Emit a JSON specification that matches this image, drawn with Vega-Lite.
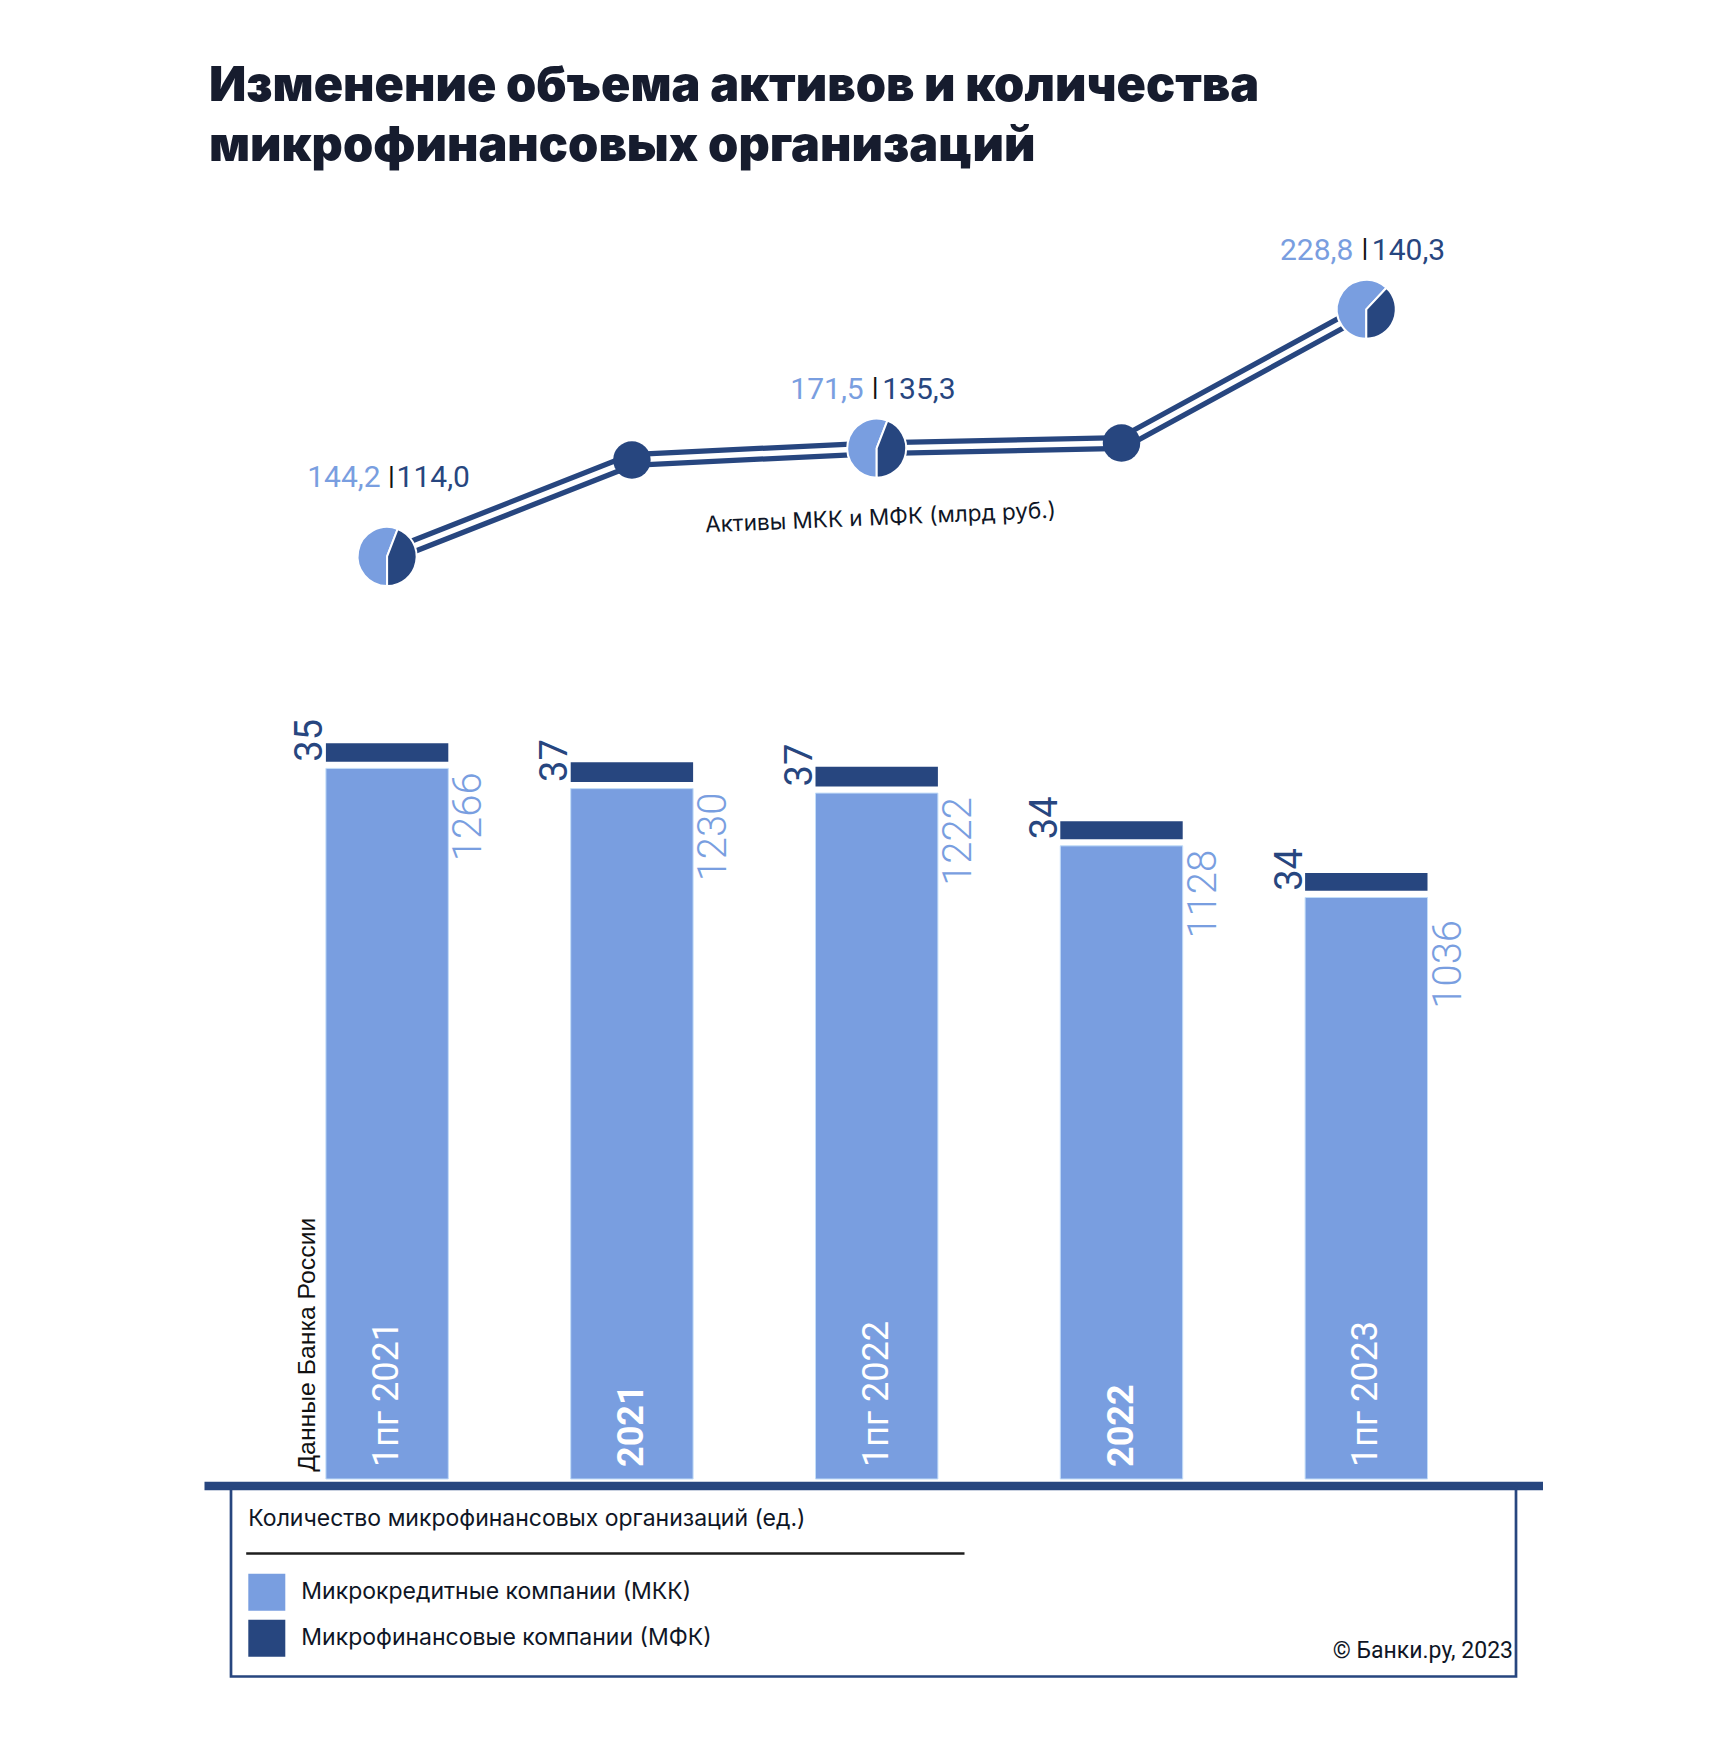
{
  "$schema": "https://vega.github.io/schema/vega-lite/v6.json",
  "background": "white",
  "padding": {"left": 204, "top": 61.5, "right": 0, "bottom": 0},
  "title": {
    "text": ["Изменение объема активов и количества", "микрофинансовых организаций"],
    "anchor": "start",
    "frame": "group",
    "font": "Inter",
    "fontSize": 48.5,
    "fontWeight": 900,
    "color": "#161C2E",
    "lineHeight": 60,
    "offset": 9,
    "dx": 5
  },
  "config": {
    "view": {"stroke": null},
    "locale": {"number": {"decimal": ",", "thousands": " ", "grouping": [3], "currency": ["", ""]}},
    "axis": {"grid": false}
  },
  "datasets": {
    "counts": [
      {"period": "1пг 2021", "series": "МКК", "count": 1266},
      {"period": "1пг 2021", "series": "МФК", "count": 35},
      {"period": "2021", "series": "МКК", "count": 1230},
      {"period": "2021", "series": "МФК", "count": 37},
      {"period": "1пг 2022", "series": "МКК", "count": 1222},
      {"period": "1пг 2022", "series": "МФК", "count": 37},
      {"period": "2022", "series": "МКК", "count": 1128},
      {"period": "2022", "series": "МФК", "count": 34},
      {"period": "1пг 2023", "series": "МКК", "count": 1036},
      {"period": "1пг 2023", "series": "МФК", "count": 34}
    ],
    "line": [
      {"period": "1пг 2021", "total": 258.2},
      {"period": "2021", "total": 301.5},
      {"period": "1пг 2022", "total": 306.8},
      {"period": "2022", "total": 309.1},
      {"period": "1пг 2023", "total": 369.1}
    ],
    "pie": [
      {"period": "1пг 2021", "series": "МКК", "value": 144.2},
      {"period": "1пг 2021", "series": "МФК", "value": 114.0},
      {"period": "1пг 2022", "series": "МКК", "value": 171.5},
      {"period": "1пг 2022", "series": "МФК", "value": 135.3},
      {"period": "1пг 2023", "series": "МКК", "value": 228.8},
      {"period": "1пг 2023", "series": "МФК", "value": 140.3}
    ]
  },
  "spacing": 2,
  "bounds": "flush",
  "center": true,
  "vconcat": [
    {
      "width": 1339,
      "height": 1305,
      "resolve": {"scale": {"y": "independent"}, "axis": {"y": "independent"}},
      "layer": [
        {
          "data": {"name": "counts"},
          "layer": [
            {
              "transform": [{"filter": "datum.series == 'МКК'"}],
              "mark": {"type": "bar", "stroke": "#C3DDF8", "strokeWidth": 1},
              "encoding": {
                "x": {
                  "field": "period", "type": "nominal",
                  "scale": {"domain": ["1пг 2021", "2021", "1пг 2022", "2022", "1пг 2023"], "paddingInner": 0.5, "paddingOuter": 0.4849, "align": 0.5135, "round": false},
                  "axis": {
                    "title": null, "orient": "bottom", "ticks": false, "tickSize": 0,
                    "domain": true, "domainColor": "#27467F", "domainWidth": 8.3, "domainCap": "butt",
                    "labelAngle": 270, "labelAlign": "left", "labelBaseline": "middle", "labelPadding": -19,
                    "labelColor": "white", "labelFont": "Roboto", "labelFontSize": 36,
                    "labelFontWeight": {"condition": {"test": "indexof(datum.label, 'пг') < 0", "value": "bold"}, "value": "normal"},
                    "labelOverlap": false, "labelFlush": false, "labelBound": false, "zindex": 1
                  }
                },
                "y": {
                  "field": "count", "type": "quantitative", "stack": null,
                  "scale": {"domain": [-11.58, 2313.38], "nice": false, "zero": false},
                  "axis": {
                    "title": "Данные Банка России", "orient": "left", "domain": false, "ticks": false, "labels": false, "grid": false,
                    "titleAngle": 270, "titleX": 103, "titleY": 1290.7, "titleAlign": "left", "titleBaseline": "middle",
                    "titleFont": "Liberation Sans", "titleFontSize": 24.8, "titleFontWeight": "normal", "titleColor": "#111111"
                  }
                },
                "color": {
                  "field": "series", "type": "nominal",
                  "scale": {"domain": ["МКК", "МФК"], "range": ["#799EE0", "#27467F"]},
                  "legend": {
                    "title": "Количество микрофинансовых организаций (ед.)",
                    "orient": "none", "legendX": 44.3, "legendY": 1327.8,
                    "symbolType": "square", "symbolSize": 1369, "symbolStrokeWidth": 0, "symbolOpacity": 1,
                    "labelExpr": "datum.label == 'МКК' ? 'Микрокредитные компании (МКК)' : 'Микрофинансовые компании (МФК)'",
                    "labelFont": "Inter", "labelFontSize": 23, "labelColor": "#0F1626", "labelOffset": 16, "labelLimit": 1000,
                    "rowPadding": 9,
                    "titleFont": "Inter", "titleFontSize": 23, "titleFontWeight": "normal", "titleColor": "#0F1626",
                    "titlePadding": 42.5, "titleLimit": 1200, "padding": 0
                  }
                }
              }
            },
            {
              "transform": [
                {"stack": "count", "groupby": ["period"], "sort": [{"field": "series", "order": "ascending"}], "as": ["c0", "c1"]},
                {"filter": "datum.series == 'МФК'"}
              ],
              "mark": {"type": "bar", "yOffset": -5.5, "y2Offset": -6.7},
              "encoding": {
                "x": {"field": "period", "type": "nominal", "scale": {"domain": ["1пг 2021", "2021", "1пг 2022", "2022", "1пг 2023"], "paddingInner": 0.5, "paddingOuter": 0.4849, "align": 0.5135, "round": false}},
                "y": {"field": "c1", "type": "quantitative", "stack": null, "scale": {"domain": [-11.58, 2313.38], "nice": false, "zero": false}},
                "y2": {"field": "c0"},
                "color": {"field": "series", "type": "nominal", "scale": {"domain": ["МКК", "МФК"], "range": ["#799EE0", "#27467F"]}}
              }
            },
            {
              "transform": [{"filter": "datum.series == 'МКК' && datum.period != '1пг 2023'"}],
              "mark": {"type": "text", "angle": 270, "align": "right", "baseline": "top", "font": "Roboto", "fontWeight": 300, "fontSize": 40, "color": "#799EE0", "xOffset": 1, "yOffset": 4},
              "encoding": {
                "x": {"field": "period", "type": "nominal", "bandPosition": 1, "scale": {"domain": ["1пг 2021", "2021", "1пг 2022", "2022", "1пг 2023"], "paddingInner": 0.5, "paddingOuter": 0.4849, "align": 0.5135, "round": false}},
                "y": {"field": "count", "type": "quantitative", "stack": null, "scale": {"domain": [-11.58, 2313.38], "nice": false, "zero": false}},
                "text": {"field": "count", "type": "quantitative", "format": "d"}
              }
            },
            {
              "transform": [{"filter": "datum.series == 'МКК' && datum.period == '1пг 2023'"}],
              "mark": {"type": "text", "angle": 270, "align": "right", "baseline": "top", "font": "Roboto", "fontWeight": 300, "fontSize": 40, "color": "#799EE0", "xOffset": 1, "yOffset": 22.5},
              "encoding": {
                "x": {"field": "period", "type": "nominal", "bandPosition": 1, "scale": {"domain": ["1пг 2021", "2021", "1пг 2022", "2022", "1пг 2023"], "paddingInner": 0.5, "paddingOuter": 0.4849, "align": 0.5135, "round": false}},
                "y": {"field": "count", "type": "quantitative", "stack": null, "scale": {"domain": [-11.58, 2313.38], "nice": false, "zero": false}},
                "text": {"field": "count", "type": "quantitative", "format": "d"}
              }
            },
            {
              "transform": [
                {"stack": "count", "groupby": ["period"], "sort": [{"field": "series", "order": "ascending"}], "as": ["c0", "c1"]},
                {"filter": "datum.series == 'МФК'"}
              ],
              "mark": {"type": "text", "angle": 270, "align": "left", "baseline": "alphabetic", "font": "Roboto", "fontWeight": 400, "fontSize": 38, "color": "#27467F", "xOffset": -3.5, "yOffset": -6.7},
              "encoding": {
                "x": {"field": "period", "type": "nominal", "bandPosition": 0, "scale": {"domain": ["1пг 2021", "2021", "1пг 2022", "2022", "1пг 2023"], "paddingInner": 0.5, "paddingOuter": 0.4849, "align": 0.5135, "round": false}},
                "y": {"field": "c0", "type": "quantitative", "stack": null, "scale": {"domain": [-11.58, 2313.38], "nice": false, "zero": false}},
                "text": {"field": "count", "type": "quantitative", "format": "d"}
              }
            }
          ]
        },
        {
          "layer": [
            {
              "data": {"name": "line"},
              "mark": {"type": "line", "color": "#27467F", "strokeWidth": 16, "strokeCap": "butt"},
              "encoding": {
                "x": {"field": "period", "type": "nominal", "scale": {"domain": ["1пг 2021", "2021", "1пг 2022", "2022", "1пг 2023"], "paddingInner": 0.5, "paddingOuter": 0.4849, "align": 0.5135, "round": false}},
                "y": {
                  "field": "total", "type": "quantitative", "stack": null,
                  "scale": {"domain": [-158.58, 426.88], "nice": false, "zero": false},
                  "axis": {
                    "orient": "right", "domain": false, "ticks": false, "labels": false, "grid": false,
                    "title": "Активы МКК и МФК (млрд руб.)",
                    "titleAngle": -2.4, "titleX": -663, "titleY": 337, "titleAlign": "center", "titleBaseline": "middle",
                    "titleFont": "Inter", "titleFontSize": 22.5, "titleFontWeight": "normal", "titleColor": "#0F1626"
                  }
                },
                "order": {"value": null}
              }
            },
            {
              "data": {"name": "line"},
              "mark": {"type": "line", "color": "white", "strokeWidth": 5.5, "strokeCap": "butt"},
              "encoding": {
                "x": {"field": "period", "type": "nominal", "scale": {"domain": ["1пг 2021", "2021", "1пг 2022", "2022", "1пг 2023"], "paddingInner": 0.5, "paddingOuter": 0.4849, "align": 0.5135, "round": false}},
                "y": {"field": "total", "type": "quantitative", "stack": null, "scale": {"domain": [-158.58, 426.88], "nice": false, "zero": false}},
                "order": {"value": null}
              }
            },
            {
              "data": {"name": "line"},
              "transform": [{"filter": {"field": "period", "oneOf": ["2021", "2022"]}}],
              "mark": {"type": "circle", "size": 1406, "opacity": 1, "color": "#27467F"},
              "encoding": {
                "x": {"field": "period", "type": "nominal", "scale": {"domain": ["1пг 2021", "2021", "1пг 2022", "2022", "1пг 2023"], "paddingInner": 0.5, "paddingOuter": 0.4849, "align": 0.5135, "round": false}},
                "y": {"field": "total", "type": "quantitative", "stack": null, "scale": {"domain": [-158.58, 426.88], "nice": false, "zero": false}}
              }
            },
            {
              "data": {"name": "pie"},
              "transform": [
                {"lookup": "period", "from": {"data": {"name": "line"}, "key": "period", "fields": ["total"]}},
                {"stack": "value", "groupby": ["period"], "offset": "normalize", "sort": [{"field": "series", "order": "ascending"}], "as": ["t0", "t1"]}
              ],
              "mark": {"type": "arc", "outerRadius": 29.5, "innerRadius": 0, "stroke": "white", "strokeWidth": 2},
              "encoding": {
                "x": {"field": "period", "type": "nominal", "scale": {"domain": ["1пг 2021", "2021", "1пг 2022", "2022", "1пг 2023"], "paddingInner": 0.5, "paddingOuter": 0.4849, "align": 0.5135, "round": false}},
                "y": {"field": "total", "type": "quantitative", "stack": null, "scale": {"domain": [-158.58, 426.88], "nice": false, "zero": false}},
                "theta": {"field": "t0", "type": "quantitative", "stack": null, "scale": {"domain": [0, 1], "range": [3.14159265, 9.42477796]}},
                "theta2": {"field": "t1"},
                "color": {"field": "series", "type": "nominal", "scale": {"domain": ["МКК", "МФК"], "range": ["#799EE0", "#27467F"]}}
              }
            },
            {
              "data": {"name": "pie"},
              "transform": [
                {"lookup": "period", "from": {"data": {"name": "line"}, "key": "period", "fields": ["total"]}},
                {"filter": "datum.series == 'МКК' && datum.period != '1пг 2021'"}
              ],
              "mark": {"type": "text", "align": "right", "baseline": "alphabetic", "dx": -13, "yOffset": -49.3, "font": "Roboto", "fontSize": 30, "color": "#799EE0"},
              "encoding": {
                "x": {"field": "period", "type": "nominal", "scale": {"domain": ["1пг 2021", "2021", "1пг 2022", "2022", "1пг 2023"], "paddingInner": 0.5, "paddingOuter": 0.4849, "align": 0.5135, "round": false}},
                "y": {"field": "total", "type": "quantitative", "stack": null, "scale": {"domain": [-158.58, 426.88], "nice": false, "zero": false}},
                "text": {"field": "value", "type": "quantitative", "format": ".1f"}
              }
            },
            {
              "data": {"name": "pie"},
              "transform": [
                {"lookup": "period", "from": {"data": {"name": "line"}, "key": "period", "fields": ["total"]}},
                {"filter": "datum.series == 'МКК' && datum.period != '1пг 2021'"}
              ],
              "mark": {"type": "text", "align": "center", "baseline": "alphabetic", "dx": -1.5, "yOffset": -51.8, "font": "Roboto", "fontWeight": 700, "fontSize": 25, "color": "#111111", "text": "|"},
              "encoding": {
                "x": {"field": "period", "type": "nominal", "scale": {"domain": ["1пг 2021", "2021", "1пг 2022", "2022", "1пг 2023"], "paddingInner": 0.5, "paddingOuter": 0.4849, "align": 0.5135, "round": false}},
                "y": {"field": "total", "type": "quantitative", "stack": null, "scale": {"domain": [-158.58, 426.88], "nice": false, "zero": false}}
              }
            },
            {
              "data": {"name": "pie"},
              "transform": [
                {"lookup": "period", "from": {"data": {"name": "line"}, "key": "period", "fields": ["total"]}},
                {"filter": "datum.series == 'МФК' && datum.period != '1пг 2021'"}
              ],
              "mark": {"type": "text", "align": "left", "baseline": "alphabetic", "dx": 5.5, "yOffset": -49.3, "font": "Roboto", "fontSize": 30, "color": "#27467F"},
              "encoding": {
                "x": {"field": "period", "type": "nominal", "scale": {"domain": ["1пг 2021", "2021", "1пг 2022", "2022", "1пг 2023"], "paddingInner": 0.5, "paddingOuter": 0.4849, "align": 0.5135, "round": false}},
                "y": {"field": "total", "type": "quantitative", "stack": null, "scale": {"domain": [-158.58, 426.88], "nice": false, "zero": false}},
                "text": {"field": "value", "type": "quantitative", "format": ".1f"}
              }
            },
            {
              "data": {"name": "pie"},
              "transform": [
                {"lookup": "period", "from": {"data": {"name": "line"}, "key": "period", "fields": ["total"]}},
                {"filter": "datum.series == 'МКК' && datum.period == '1пг 2021'"}
              ],
              "mark": {"type": "text", "align": "right", "baseline": "alphabetic", "dx": -6.5, "yOffset": -69.3, "font": "Roboto", "fontSize": 30, "color": "#799EE0"},
              "encoding": {
                "x": {"field": "period", "type": "nominal", "scale": {"domain": ["1пг 2021", "2021", "1пг 2022", "2022", "1пг 2023"], "paddingInner": 0.5, "paddingOuter": 0.4849, "align": 0.5135, "round": false}},
                "y": {"field": "total", "type": "quantitative", "stack": null, "scale": {"domain": [-158.58, 426.88], "nice": false, "zero": false}},
                "text": {"field": "value", "type": "quantitative", "format": ".1f"}
              }
            },
            {
              "data": {"name": "pie"},
              "transform": [
                {"lookup": "period", "from": {"data": {"name": "line"}, "key": "period", "fields": ["total"]}},
                {"filter": "datum.series == 'МКК' && datum.period == '1пг 2021'"}
              ],
              "mark": {"type": "text", "align": "center", "baseline": "alphabetic", "dx": 4.4, "yOffset": -71.8, "font": "Roboto", "fontWeight": 700, "fontSize": 25, "color": "#111111", "text": "|"},
              "encoding": {
                "x": {"field": "period", "type": "nominal", "scale": {"domain": ["1пг 2021", "2021", "1пг 2022", "2022", "1пг 2023"], "paddingInner": 0.5, "paddingOuter": 0.4849, "align": 0.5135, "round": false}},
                "y": {"field": "total", "type": "quantitative", "stack": null, "scale": {"domain": [-158.58, 426.88], "nice": false, "zero": false}}
              }
            },
            {
              "data": {"name": "pie"},
              "transform": [
                {"lookup": "period", "from": {"data": {"name": "line"}, "key": "period", "fields": ["total"]}},
                {"filter": "datum.series == 'МФК' && datum.period == '1пг 2021'"}
              ],
              "mark": {"type": "text", "align": "left", "baseline": "alphabetic", "dx": 9.5, "yOffset": -69.3, "font": "Roboto", "fontSize": 30, "color": "#27467F"},
              "encoding": {
                "x": {"field": "period", "type": "nominal", "scale": {"domain": ["1пг 2021", "2021", "1пг 2022", "2022", "1пг 2023"], "paddingInner": 0.5, "paddingOuter": 0.4849, "align": 0.5135, "round": false}},
                "y": {"field": "total", "type": "quantitative", "stack": null, "scale": {"domain": [-158.58, 426.88], "nice": false, "zero": false}},
                "text": {"field": "value", "type": "quantitative", "format": ".1f"}
              }
            }
          ]
        }
      ]
    },
    {
      "width": 1285,
      "height": 189,
      "view": {"stroke": "#27467F", "strokeWidth": 2.7},
      "data": {"values": [{}]},
      "title": {
        "text": "© Банки.ру, 2023", "orient": "bottom", "anchor": "end", "frame": "group",
        "offset": -19, "baseline": "alphabetic", "dx": -3,
        "font": "Roboto", "fontSize": 23, "fontWeight": "normal", "color": "#0F1626"
      },
      "mark": {"type": "rule", "color": "#1E1E1E", "strokeWidth": 2.3},
      "encoding": {
        "x": {"datum": 15.2, "type": "quantitative", "scale": {"domain": [0, 1285], "nice": false, "zero": false}, "axis": null},
        "x2": {"datum": 733.5},
        "y": {"datum": 123, "type": "quantitative", "scale": {"domain": [0, 189], "nice": false, "zero": false}, "axis": null}
      }
    }
  ]
}
